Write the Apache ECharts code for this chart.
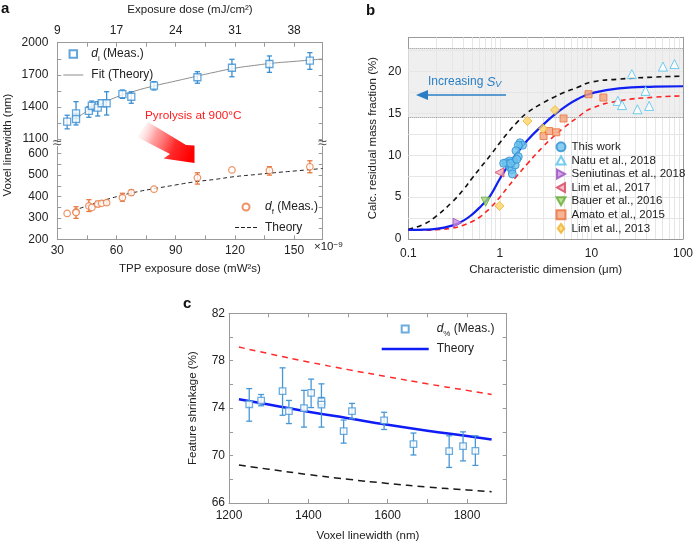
<!DOCTYPE html>
<html><head><meta charset="utf-8">
<script src="https://cdn.jsdelivr.net/npm/echarts@6/dist/echarts.min.js"></script>
<style>html,body{margin:0;padding:0;background:#fff}#c{width:696px;height:543px}</style>
</head><body><div id="c"></div>
<script>
// ---------- Panel a ----------
const doseA = [35, 39.5, 39.5, 46, 47.5, 50.5, 52.5, 55, 63, 67.5, 79, 101, 118.5, 137.5, 158];
const diA  = [1262, 1340, 1287, 1362, 1411, 1393, 1434, 1434, 1520, 1495, 1598, 1677, 1766, 1801, 1832];
const diLo = [1195, 1290, 1231, 1303, 1364, 1315, null, 1324, 1480, 1434, 1558, 1621, 1682, 1723, 1751];
const diHi = [1322, 1449, 1340, 1402, 1455, 1449, null, 1542, 1558, 1542, 1636, 1729, 1845, 1876, 1907];
const dfA  = [321, 328, 325, 356, 349, 365, 368, 371, 395, 418, 434, 488, 524, 522, 539];
const dfLo = [null, 298, null, 330, null, 352, null, 362, 378, 405, null, 458, null, 500, 511];
const dfHi = [null, 352, null, 385, null, 378, null, 380, 415, 430, null, 511, null, 539, 567];
const fitX = [40, 45, 50, 60, 70, 80, 90, 100, 110, 120, 130, 140, 150, 164.5];
const fitY = [1300, 1358, 1408, 1492, 1552, 1600, 1642, 1684, 1725, 1762, 1788, 1810, 1825, 1848];
const thAX = [38, 40, 50, 60, 70, 80, 90, 100, 110, 120, 130, 140, 150, 164.5];
const thAY = [333, 340, 371, 399, 421, 438, 454, 469, 480, 493, 502, 511, 519, 531];
const topTickPos = [30, 60, 90, 120, 150];
const topLabels = ['9', '17', '24', '31', '38'];
const aXTicks = [30, 45, 60, 75, 90, 105, 120, 135, 150];
const aXLabels = [30, 60, 90, 120, 150];
const aUpTicks = [1100, 1250, 1400, 1550, 1700, 1850, 2000];
const aUpLabels = [1100, 1400, 1700, 2000];
const aLoTicks = [200, 250, 300, 350, 400, 450, 500, 550, 600];
const aLoLabels = [200, 300, 400, 500, 600];

// ---------- Panel b ----------
const bCurveX = [0.1, 0.15, 0.2, 0.3, 0.4, 0.5, 0.6, 0.7, 0.8, 1, 1.2, 1.5, 2, 3, 4, 5, 7, 10, 20, 50, 100];
const bBlue  = [1.1, 1.12, 1.2, 1.6, 2.2, 2.95, 3.75, 4.5, 5.3, 7.2, 8.6, 10.1, 11.8, 13.7, 14.9, 15.7, 16.7, 17.4, 18.0, 18.2, 18.25];
const bBlack = [1.15, 1.8, 2.7, 4.4, 5.9, 7.3, 8.4, 9.3, 10.1, 11.5, 12.6, 13.8, 15.1, 16.3, 17.0, 17.5, 18.1, 18.75, 19.1, 19.35, 19.45];
const bRed   = [1.05, 1.05, 1.1, 1.3, 1.65, 2.1, 2.6, 3.2, 3.8, 5.0, 6.1, 7.4, 9.0, 11.1, 12.4, 13.3, 14.5, 15.6, 16.5, 16.95, 17.1];
const thisX = [1.66, 1.77, 1.59, 1.50, 1.59, 1.40, 1.27, 1.17, 1.27, 1.35, 1.37, 1.47, 1.10, 1.31, 1.53];
const thisY = [11.5, 11.2, 11.2, 10.55, 9.84, 9.32, 9.32, 9.12, 8.64, 8.25, 7.77, 8.84, 9.04, 9.04, 9.52];
const natuX = [27.6, 60.4, 80.7, 19.4, 21.6, 39, 31.8, 42.7];
const natuY = [19.7, 20.6, 20.9, 16.5, 16.0, 17.7, 15.5, 15.9];
const seniX = [0.345], seniY = [1.95];
const lim17X = [0.99], lim17Y = [7.95];
const bauerX = [0.70], bauerY = [4.46];
const amatoX = [9.3, 13.5, 3.0, 3.45, 4.13, 4.96];
const amatoY = [17.3, 16.9, 12.3, 12.9, 12.75, 14.4];
const lim13X = [2.0, 2.97, 4.0, 0.99];
const lim13Y = [14.1, 13.2, 15.4, 3.95];
const bandLo = 14.5, bandHi = 22.8;
const bYTicks = [0, 2.5, 5, 7.5, 10, 12.5, 15, 17.5, 20, 22.5];
const bYLabels = [0, 5, 10, 15, 20];
const bGridX = [0.2,0.3,0.4,0.5,0.6,0.7,0.8,0.9,1,2,3,4,5,6,7,8,9,10,20,30,40,50,60,70,80,90];
const bGridY = [2.5, 5, 7.5, 10, 12.5, 15, 17.5, 20, 22.5];

// ---------- Panel c ----------
const pcX  = [1251, 1281, 1335, 1351, 1389, 1407, 1433, 1433, 1489, 1510, 1591, 1665, 1755, 1790, 1821];
const pcY  = [74.33, 74.64, 75.44, 73.75, 74.0, 75.28, 74.58, 74.3, 72.06, 73.75, 72.97, 70.97, 70.38, 70.8, 70.4];
const pcLo = [72.9, 74.2, 73.4, 72.7, 72.4, 74.05, 74.1, 72.4, 71.05, 73.1, 72.2, 70.05, 69.0, 69.55, 69.17];
const pcHi = [75.65, 75.15, 77.4, 74.65, 75.5, 76.45, 76.05, 74.9, 73.0, 74.4, 73.65, 71.9, 71.67, 72.0, 71.67];
const cThX = [1225, 1300, 1400, 1500, 1600, 1700, 1800, 1862];
const cBlue  = [74.75, 74.3, 73.7, 73.15, 72.6, 72.1, 71.65, 71.35];
const cRed   = [79.15, 78.6, 77.9, 77.25, 76.65, 76.05, 75.5, 75.15];
const cBlack = [69.2, 68.85, 68.4, 68.0, 67.65, 67.35, 67.1, 66.95];
const cXTicks = [1200, 1300, 1400, 1500, 1600, 1700, 1800, 1900];
const cXLabels = [1200, 1400, 1600, 1800];
const cYTicks = [66, 68, 70, 72, 74, 76, 78, 80, 82];
const cYLabels = [66, 70, 74, 78, 82];

// ---------- helpers ----------
const F = "'Liberation Sans', Arial, Helvetica, sans-serif";
const AX = '#9a9a9a';
const BLUE_A = '#3a8fd2', ORANGE = '#e8773d', BLUE_C = '#4797d6';
function zip(a, b) { return a.map((v, i) => [v, b[i]]); }
function errData(x, lo, hi) { const o = []; x.forEach((v, i) => { if (lo[i] != null && hi[i] != null) o.push([v, lo[i], hi[i]]); }); return o; }
function errSeries(name, data, xi, yi, color, cap) {
  return { type: 'custom', name, xAxisIndex: xi, yAxisIndex: yi, data, z: 4, silent: true,
    encode: { x: 0, y: [1, 2] },
    renderItem: (p, api) => {
      const x = api.value(0), a = api.coord([x, api.value(1)]), b = api.coord([x, api.value(2)]);
      const st = { stroke: color, lineWidth: 1.3 };
      return { type: 'group', children: [
        { type: 'line', shape: { x1: a[0], y1: a[1], x2: b[0], y2: b[1] }, style: st },
        { type: 'line', shape: { x1: a[0] - cap, y1: a[1], x2: a[0] + cap, y2: a[1] }, style: st },
        { type: 'line', shape: { x1: b[0] - cap, y1: b[1], x2: b[0] + cap, y2: b[1] }, style: st }] };
    } };
}
function mkAxis(o) {
  const a = { type: o.type || 'value', gridIndex: o.grid, position: o.pos, min: o.min, max: o.max,
    axisLine: { show: true, onZero: false, lineStyle: { color: AX, width: 1 } },
    axisTick: { show: true, inside: true, length: 4, lineStyle: { color: AX } },
    splitLine: { show: false },
    axisLabel: { show: !!o.labels, color: '#222', fontSize: 12, fontFamily: F, margin: o.margin || 6,
      formatter: o.fmt || (o.type === 'log' ? undefined : (v => String(v))) } };
  if (!a.axisLabel.formatter) delete a.axisLabel.formatter;
  if (o.ticks) a.axisTick.customValues = o.ticks;
  if (Array.isArray(o.labels)) a.axisLabel.customValues = o.labels;
  if (o.name) { a.name = o.name; a.nameLocation = 'middle'; a.nameGap = o.gap; a.nameTextStyle = { color: '#222', fontSize: 11.5, fontFamily: F }; }
  if (o.type === 'log') a.logBase = 10;
  return a;
}
const rich = {
  i: { fontStyle: 'italic', fontSize: 12, fontFamily: F, color: '#222' },
  s: { fontSize: 8, fontFamily: F, color: '#222', verticalAlign: 'bottom', padding: [0, 0, -2, 0] }
};
const legNames = { di: '{i|d}{s|i} (Meas.)', fit: 'Fit (Theory)', df: '{i|d}{s|f} (Meas.)', theoryA: 'Theory', pc: '{i|d}{s|%} (Meas.)', theoryC: 'Theory' };
function legFmt(n) { return legNames[n] || n; }
function leg(o) {
  return Object.assign({ orient: 'vertical', selectedMode: false, padding: 0, itemHeight: 8, formatter: legFmt,
    symbolKeepAspect: true, symbolRotate: 0, z: 10,
    textStyle: { fontSize: 12, fontFamily: F, color: '#222', rich, lineHeight: 14, padding: [0, 0, 0, 3] } }, o);
}
function sc(name, xs, ys, symbol, size, fill, stroke, rot) {
  return { name, type: 'scatter', xAxisIndex: 2, yAxisIndex: 4, data: zip(xs, ys), symbol, symbolSize: size,
    symbolRotate: rot || 0, itemStyle: { color: fill, borderColor: stroke, borderWidth: 1 }, z: 6 };
}
const SQ = 'path://M0,0H10V10H0Z';

const option = {
  animation: false,
  backgroundColor: '#fff',
  grid: [
    { left: 57.3, top: 42.7, width: 265.4, height: 99.3 },
    { left: 57.3, top: 146.5, width: 265.4, height: 92.8 },
    { left: 408.3, top: 37.3, width: 279, height: 201.7 },
    { left: 229, top: 313.3, width: 277.7, height: 192 }
  ],
  xAxis: [
    mkAxis({ grid: 0, pos: 'top', min: 30, max: 164.5, ticks: aXTicks, labels: topTickPos,
      fmt: v => topLabels[topTickPos.indexOf(v)], name: 'Exposure dose (mJ/cm²)', gap: 27, margin: 6 }),
    mkAxis({ grid: 1, pos: 'bottom', min: 30, max: 164.5, ticks: aXTicks, labels: aXLabels,
      name: 'TPP exposure dose (mW²s)', gap: 24, margin: 5 }),
    mkAxis({ grid: 2, pos: 'bottom', type: 'log', min: 0.1, max: 100, labels: true,
      name: 'Characteristic dimension (μm)', gap: 25, margin: 9 }),
    mkAxis({ grid: 2, pos: 'top', type: 'log', min: 0.1, max: 100 }),
    mkAxis({ grid: 3, pos: 'bottom', min: 1200, max: 1900, ticks: cXTicks, labels: cXLabels,
      name: 'Voxel linewidth (nm)', gap: 27, margin: 7 }),
    mkAxis({ grid: 3, pos: 'top', min: 1200, max: 1900, ticks: cXTicks })
  ],
  yAxis: [
    mkAxis({ grid: 0, pos: 'left', min: 1072, max: 2000, ticks: aUpTicks, labels: aUpLabels, margin: 9 }),
    mkAxis({ grid: 0, pos: 'right', min: 1072, max: 2000, ticks: aUpTicks }),
    mkAxis({ grid: 1, pos: 'left', min: 200, max: 633.6, ticks: aLoTicks, labels: aLoLabels, margin: 9 }),
    mkAxis({ grid: 1, pos: 'right', min: 200, max: 633.6, ticks: aLoTicks }),
    mkAxis({ grid: 2, pos: 'left', min: 0, max: 24.1, ticks: bYTicks, labels: bYLabels,
      name: 'Calc. residual mass fraction (%)', gap: 29, margin: 7 }),
    mkAxis({ grid: 2, pos: 'right', min: 0, max: 24.1, ticks: bYTicks }),
    mkAxis({ grid: 3, pos: 'left', min: 66, max: 82, ticks: cYTicks, labels: cYLabels,
      name: 'Feature shrinkage (%)', gap: 30, margin: 4 }),
    mkAxis({ grid: 3, pos: 'right', min: 66, max: 82, ticks: cYTicks })
  ],
  legend: [
    leg({ data: [{ name: 'di', icon: SQ }, { name: 'fit', icon: 'path://M0,0H20V1H0Z' }],
      left: 63.3, top: 47, itemWidth: 20, itemHeight: 7.5, itemGap: 5 }),
    leg({ data: [{ name: 'df', icon: 'circle' }, { name: 'theoryA', icon: 'path://M0,0H4V1.2H0ZM6,0H10V1.2H6ZM12,0H16V1.2H12ZM18,0H22V1.2H18Z' }],
      left: 235, top: 200, itemWidth: 22, itemHeight: 7, itemGap: 4.5 }),
    leg({ data: [
        { name: 'This work', icon: 'circle' },
        { name: 'Natu et al., 2018', icon: 'path://M5,0L10,9L0,9Z' },
        { name: 'Seniutinas et al., 2018', icon: 'path://M0,0L9,5L0,10Z' },
        { name: 'Lim et al., 2017', icon: 'path://M9,0L0,5L9,10Z' },
        { name: 'Bauer et al., 2016', icon: 'path://M0,0L10,0L5,9Z' },
        { name: 'Amato et al., 2015', icon: SQ },
        { name: 'Lim et al., 2013', icon: 'path://M4,0L8,5.5L4,11L0,5.5Z' }],
      left: 555.5, top: 140, itemWidth: 9, itemHeight: 9, itemGap: 0,
      textStyle: { fontSize: 11.5, fontFamily: F, color: '#222', lineHeight: 13.6, padding: [0, 0, 0, 1] } }),
    leg({ data: [{ name: 'pc', icon: SQ }, { name: 'theoryC', icon: 'path://M0,0H47V2.5H0Z' }],
      left: 381.7, top: 322, itemWidth: 47, itemHeight: 7, itemGap: 4 })
  ],
  series: [
    // panel a
    { name: 'fit', type: 'line', xAxisIndex: 0, yAxisIndex: 0, data: zip(fitX, fitY), smooth: true, symbol: 'none',
      lineStyle: { color: '#8c8c8c', width: 1 }, itemStyle: { color: '#8c8c8c', borderWidth: 0 }, z: 3 },
    errSeries('diErr', errData(doseA, diLo, diHi), 0, 0, BLUE_A, 2.6),
    { name: 'di', type: 'scatter', xAxisIndex: 0, yAxisIndex: 0, data: zip(doseA, diA), symbol: 'rect', symbolSize: 7,
      itemStyle: { color: '#fff', borderColor: BLUE_A, borderWidth: 1.3 }, z: 5 },
    { name: 'theoryA', type: 'line', xAxisIndex: 1, yAxisIndex: 2, data: zip(thAX, thAY), smooth: true, symbol: 'none',
      lineStyle: { color: '#222', width: 1, type: [4, 3] }, itemStyle: { color: '#222', borderWidth: 0 }, z: 3 },
    errSeries('dfErr', errData(doseA, dfLo, dfHi), 1, 2, ORANGE, 2.6),
    { name: 'df', type: 'scatter', xAxisIndex: 1, yAxisIndex: 2, data: zip(doseA, dfA), symbol: 'circle', symbolSize: 6.5,
      itemStyle: { color: '#fff', borderColor: ORANGE, borderWidth: 1.2 }, z: 5 },
    // panel b background band + grid
    { name: 'band', type: 'line', xAxisIndex: 2, yAxisIndex: 4, data: [], z: 1, silent: true,
      markArea: { silent: true, z: 1, itemStyle: { color: '#efefef' }, data: [[{ yAxis: bandLo }, { yAxis: bandHi }]] } },
    { name: 'gridb', type: 'line', xAxisIndex: 2, yAxisIndex: 4, data: [], z: 1.5, silent: true,
      markLine: { silent: true, z: 1.5, symbol: ['none', 'none'], label: { show: false },
        lineStyle: { color: '#e6e6e6', width: 1, type: 'solid' },
        data: bGridX.map(v => ({ xAxis: v })).concat(bGridY.map(v => ({ yAxis: v }))) } },
    { name: 'bandEdge', type: 'line', xAxisIndex: 2, yAxisIndex: 4, data: [], z: 1.8, silent: true,
      markLine: { silent: true, z: 1.8, symbol: ['none', 'none'], label: { show: false },
        lineStyle: { color: '#8f8f8f', width: 1, type: 'dotted' },
        data: [{ yAxis: bandLo }, { yAxis: bandHi }] } },
    { name: 'bBlack', type: 'line', xAxisIndex: 2, yAxisIndex: 4, data: zip(bCurveX, bBlack), smooth: true, symbol: 'none',
      lineStyle: { color: '#111', width: 1.6, type: [5, 4] }, z: 3 },
    { name: 'bRed', type: 'line', xAxisIndex: 2, yAxisIndex: 4, data: zip(bCurveX, bRed), smooth: true, symbol: 'none',
      lineStyle: { color: '#ff2222', width: 1.6, type: [5, 4] }, z: 3 },
    { name: 'bBlue', type: 'line', xAxisIndex: 2, yAxisIndex: 4, data: zip(bCurveX, bBlue), smooth: true, symbol: 'none',
      lineStyle: { color: '#1020f0', width: 2.2 }, z: 4 },
    sc('This work', thisX, thisY, 'circle', 8, '#6cc0ec', '#2c8ed2'),
    sc('Natu et al., 2018', natuX, natuY, 'triangle', 9, '#ffffff', '#4fc0ee'),
    sc('Seniutinas et al., 2018', seniX, seniY, 'triangle', 9, '#c98ce2', '#9a4dbf', -90),
    sc('Lim et al., 2017', lim17X, lim17Y, 'triangle', 9, '#f5a9bb', '#d8445e', 90),
    sc('Bauer et al., 2016', bauerX, bauerY, 'triangle', 9, '#a8d979', '#63a833', 180),
    sc('Amato et al., 2015', amatoX, amatoY, 'rect', 7, '#f5a27b', '#e8703a'),
    sc('Lim et al., 2013', lim13X, lim13Y, 'diamond', 9, '#fcd46a', '#f0b128'),
    // panel c
    { name: 'cRed', type: 'line', xAxisIndex: 4, yAxisIndex: 6, data: zip(cThX, cRed), smooth: true, symbol: 'none',
      lineStyle: { color: '#ff2b2b', width: 1.5, type: [6, 5] }, z: 3 },
    { name: 'cBlack', type: 'line', xAxisIndex: 4, yAxisIndex: 6, data: zip(cThX, cBlack), smooth: true, symbol: 'none',
      lineStyle: { color: '#1a1a1a', width: 1.5, type: [7, 5] }, z: 3 },
    { name: 'theoryC', type: 'line', xAxisIndex: 4, yAxisIndex: 6, data: zip(cThX, cBlue), smooth: true, symbol: 'none',
      lineStyle: { color: '#0f1cf5', width: 2.5 }, itemStyle: { color: '#0f1cf5', borderWidth: 0 }, z: 3 },
    errSeries('pcErr', errData(pcX, pcLo, pcHi), 4, 6, BLUE_C, 3),
    { name: 'pc', type: 'scatter', xAxisIndex: 4, yAxisIndex: 6, data: zip(pcX, pcY), symbol: 'rect', symbolSize: 6.5,
      itemStyle: { color: '#fff', borderColor: BLUE_C, borderWidth: 1.3 }, z: 5 }
  ],
  graphic: [
    { type: 'text', z: 100, x: 1, y: 1, style: { text: 'a', fontSize: 15, fontWeight: 'bold', fontFamily: F, fill: '#111' } },
    { type: 'text', z: 100, x: 366, y: 3, style: { text: 'b', fontSize: 15, fontWeight: 'bold', fontFamily: F, fill: '#111' } },
    { type: 'text', z: 100, x: 183, y: 296, style: { text: 'c', fontSize: 15, fontWeight: 'bold', fontFamily: F, fill: '#111' } },
    { type: 'text', z: 100, x: 8, y: 145, rotation: Math.PI / 2,
      style: { text: 'Voxel linewidth (nm)', fontSize: 11.5, fontFamily: F, fill: '#222', align: 'center', verticalAlign: 'middle' } },
    { type: 'text', z: 100, x: 57.3, y: 144, style: { text: '≈', fontSize: 16, fontFamily: F, fill: '#555', align: 'center', verticalAlign: 'middle' } },
    { type: 'text', z: 100, x: 322.7, y: 144, style: { text: '≈', fontSize: 16, fontFamily: F, fill: '#555', align: 'center', verticalAlign: 'middle' } },
    { type: 'text', z: 100, x: 314, y: 247, style: { text: '{a|×10}{b|−9}', fontFamily: F, fill: '#222', verticalAlign: 'middle',
      rich: { a: { fontSize: 11.5, fontFamily: F, fill: '#222' }, b: { fontSize: 8, fontFamily: F, fill: '#222', verticalAlign: 'top' } } } },
    { type: 'text', z: 100, x: 145, y: 116, style: { text: 'Pyrolysis at 900°C', fontSize: 11.8, fontFamily: F, fill: '#ff1c1c', verticalAlign: 'middle' } },
    { type: 'polygon', z: 100, shape: { points: [[148, 122], [186, 145], [194.5, 145.5], [194.5, 163], [163.5, 158.5], [170, 154], [137, 137]] },
      style: { fill: { type: 'linear', x: 0, y: 0, x2: 1, y2: 0.6, colorStops: [
        { offset: 0, color: 'rgba(255,255,255,0)' }, { offset: 0.35, color: 'rgba(255,120,120,0.7)' },
        { offset: 0.7, color: '#ff2a2a' }, { offset: 1, color: '#ff0000' }] } } },
    { type: 'text', z: 100, x: 428, y: 82, style: { text: '{n|Increasing }{s|S}{v|V}', verticalAlign: 'middle',
      rich: { n: { fontSize: 12, fontFamily: F, fill: '#2a7fc4' }, s: { fontSize: 13, fontStyle: 'italic', fontFamily: F, fill: '#2a7fc4' },
        v: { fontSize: 9, fontStyle: 'italic', fontFamily: F, fill: '#2a7fc4', verticalAlign: 'bottom' } } } },
    { type: 'line', z: 100, shape: { x1: 506, y1: 95, x2: 426, y2: 95 }, style: { stroke: '#2a7fc4', lineWidth: 1.5 } },
    { type: 'polygon', z: 100, shape: { points: [[416, 95], [428, 90], [428, 100]] }, style: { fill: '#2a7fc4' } }
  ]
};
const chart = echarts.init(document.getElementById('c'), null, { renderer: 'canvas' });
chart.setOption(option);
</script></body></html>
